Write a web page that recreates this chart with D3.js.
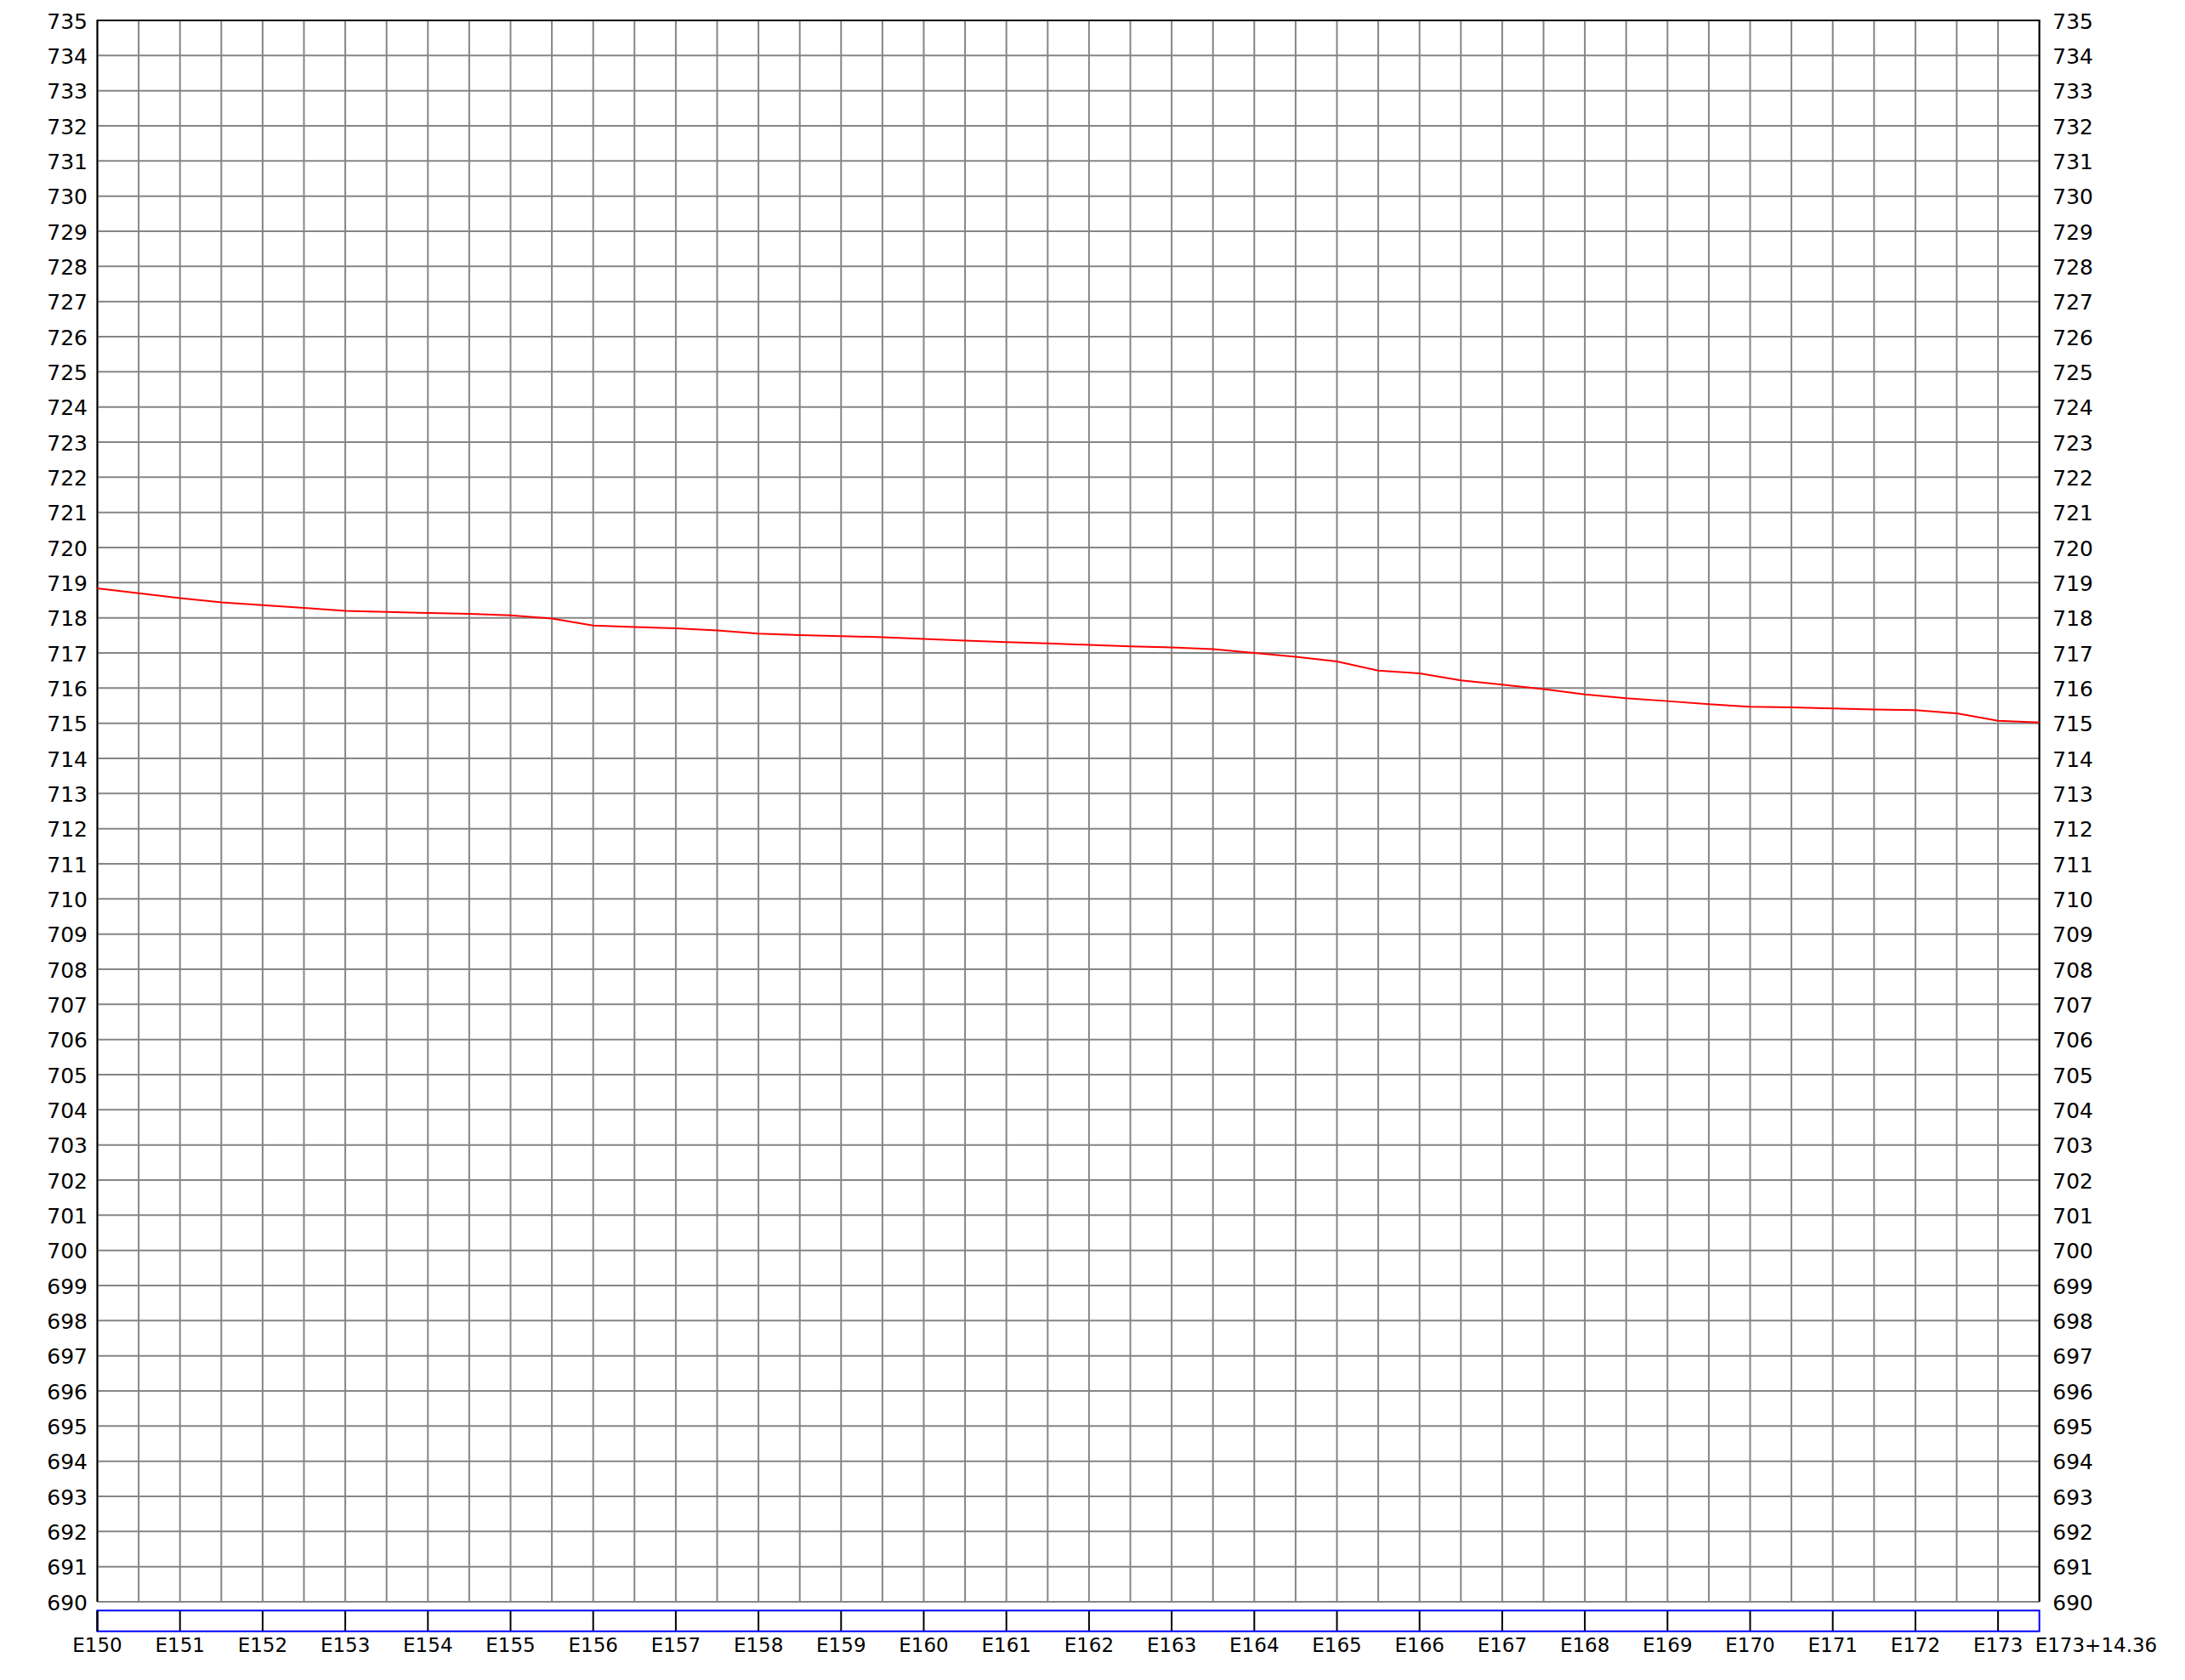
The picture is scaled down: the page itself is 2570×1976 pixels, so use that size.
<!DOCTYPE html>
<html>
<head>
<meta charset="utf-8">
<script src="https://cdn.jsdelivr.net/npm/d3@7"></script>
<style>
  html, body { margin: 0; padding: 0; background: #ffffff; }
  svg text { font-family: "DejaVu Sans", sans-serif; fill: #000; }
</style>
</head>
<body>
<svg id="profile" width="2570" height="1976"></svg>
<script>
// station positions (in station units from E150) and ground elevations
const stations = [0, 0.5, 1, 1.5, 2, 2.5, 3, 3.5, 4, 4.5, 5, 5.5, 6, 6.5, 7, 7.5,
    8, 8.5, 9, 9.5, 10, 10.5, 11, 11.5, 12, 12.5, 13, 13.5, 14, 14.5, 15, 15.5,
    16, 16.5, 17, 17.5, 18, 18.5, 19, 19.5, 20, 20.5, 21, 21.5, 22, 22.5, 23, 23.5];
const elevations = [718.84, 718.70, 718.56, 718.44, 718.36, 718.28, 718.20, 718.17,
    718.14, 718.11, 718.07, 717.98, 717.78, 717.74, 717.70, 717.64,
    717.55, 717.51, 717.48, 717.45, 717.40, 717.35, 717.31, 717.27,
    717.23, 717.19, 717.16, 717.11, 717.00, 716.89, 716.76, 716.50,
    716.42, 716.22, 716.10, 715.97, 715.82, 715.71, 715.63, 715.54,
    715.47, 715.45, 715.42, 715.39, 715.37, 715.28, 715.07, 715.02];

// chainage labels under the strip
const stationTicks = [0, 1, 2, 3, 4, 5, 6, 7, 8, 9, 10, 11, 12, 13, 14, 15, 16,
    17, 18, 19, 20, 21, 22, 23, 23.5];
const stationLabels = ["E150", "E151", "E152", "E153", "E154", "E155", "E156",
    "E157", "E158", "E159", "E160", "E161", "E162", "E163", "E164", "E165",
    "E166", "E167", "E168", "E169", "E170", "E171", "E172", "E173", "E173+14.36"];

// vertical grid spacing (half station)
const gridStations = [0, 0.5, 1, 1.5, 2, 2.5, 3, 3.5, 4, 4.5, 5, 5.5, 6, 6.5, 7, 7.5,
    8, 8.5, 9, 9.5, 10, 10.5, 11, 11.5, 12, 12.5, 13, 13.5, 14, 14.5, 15, 15.5,
    16, 16.5, 17, 17.5, 18, 18.5, 19, 19.5, 20, 20.5, 21, 21.5, 22, 22.5, 23, 23.5];

const yMin = 690;
const yMax = 735;

// plot frame
const plotLeft = 114.5, plotRight = 2398.7, plotTop = 24, plotBottom = 1884;
const stripTop = 1894.3, stripBottom = 1918.7;

const gridColor = "#858585";

let x = d3.scaleLinear().domain([0, 23.5]).range([plotLeft, plotRight]);
let y = d3.scaleLinear().domain([yMin, yMax]).range([plotBottom, plotTop]);

let svg = d3.select("#profile");

// horizontal grid
let yTicks = y.ticks(yMax - yMin);
svg.append("g")
    .selectAll("line")
    .data(yTicks)
    .enter().append("line")
    .attr("x1", plotLeft)
    .attr("x2", plotRight)
    .attr("y1", function (d) { return y(d); })
    .attr("y2", function (d) { return y(d); })
    .attr("stroke", gridColor)
    .attr("stroke-width", 2);

// vertical grid
svg.append("g")
    .selectAll("line")
    .data(gridStations)
    .enter().append("line")
    .attr("x1", function (d) { return x(d); })
    .attr("x2", function (d) { return x(d); })
    .attr("y1", plotTop)
    .attr("y2", plotBottom)
    .attr("stroke", gridColor)
    .attr("stroke-width", 2);

// frame: left, top, right in black
svg.append("path")
    .attr("d", "M" + plotLeft + "," + plotBottom + "V" + plotTop + "H" + plotRight + "V" + plotBottom)
    .attr("fill", "none")
    .attr("stroke", "#000")
    .attr("stroke-width", 2);

// elevation labels, both sides
svg.append("g")
    .selectAll("text")
    .data(yTicks)
    .enter().append("text")
    .attr("x", plotLeft - 11.5)
    .attr("y", function (d) { return y(d); })
    .attr("dy", "0.38em")
    .attr("text-anchor", "end")
    .attr("font-size", 25)
    .text(function (d) { return d; });

svg.append("g")
    .selectAll("text")
    .data(yTicks)
    .enter().append("text")
    .attr("x", 2462)
    .attr("y", function (d) { return y(d); })
    .attr("dy", "0.38em")
    .attr("text-anchor", "end")
    .attr("font-size", 25)
    .text(function (d) { return d; });

// ground line
let line = d3.line()
    .x(function (d) { return x(d[0]); })
    .y(function (d) { return y(d[1]); });

svg.append("path")
    .datum(d3.zip(stations, elevations))
    .attr("d", line)
    .attr("fill", "none")
    .attr("stroke", "#ff0000")
    .attr("stroke-width", 2);

// chainage strip
svg.append("g")
    .selectAll("line")
    .data(stationTicks.slice(0, -1))
    .enter().append("line")
    .attr("x1", function (d) { return x(d); })
    .attr("x2", function (d) { return x(d); })
    .attr("y1", stripTop)
    .attr("y2", stripBottom)
    .attr("stroke", "#000")
    .attr("stroke-width", 2);

svg.append("rect")
    .attr("x", plotLeft)
    .attr("y", stripTop)
    .attr("width", plotRight - plotLeft)
    .attr("height", stripBottom - stripTop)
    .attr("fill", "none")
    .attr("stroke", "#0000ff")
    .attr("stroke-width", 2);

// left strip edge drawn black like the reference
svg.append("line")
    .attr("x1", plotLeft).attr("x2", plotLeft)
    .attr("y1", stripTop).attr("y2", stripBottom)
    .attr("stroke", "#000")
    .attr("stroke-width", 2);

// chainage labels
svg.append("g")
    .selectAll("text")
    .data(stationTicks)
    .enter().append("text")
    .attr("x", function (d, i) {
        return i === stationTicks.length - 1 ? x(d) - 5 : x(d);
    })
    .attr("y", 1943)
    .attr("text-anchor", function (d, i) {
        return i === stationTicks.length - 1 ? "start" : "middle";
    })
    .attr("font-size", 23)
    .text(function (d, i) { return stationLabels[i]; });
</script>
</body>
</html>
